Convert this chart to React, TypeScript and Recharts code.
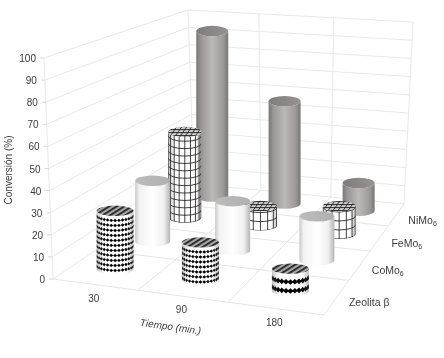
import React from 'react'
import { ScatterChart, Scatter, XAxis, YAxis } from 'recharts'

const W = 444
const H = 358

// Values, one array per catalyst, in the order of tiempos
const tiempos = ['30', '90', '180']
const catalysts = ['Zeolita β', 'CoMo', 'FeMo', 'NiMo']
const zeolita = [27, 17, 10]
const coMo = [30, 24, 21]
const feMo = [45, 10, 14]
const niMo = [92, 56, 15]
const yTicks = [0, 10, 20, 30, 40, 50, 60, 70, 80, 90, 100]
const seriesValues = [zeolita, coMo, feMo, niMo]

type Pt = { x: number; y: number }

// Corners of the box as seen by the camera: front-left, front-right, back-right, back-left
const floorQuad: Pt[] = [
  { x: 53, y: 279 },
  { x: 324, y: 315 },
  { x: 404, y: 204 },
  { x: 194, y: 184 },
]
const topQuad: Pt[] = [
  { x: 44, y: 58 },
  { x: 333, y: 80 },
  { x: 413, y: 22 },
  { x: 188, y: 10 },
]

// Unit square to quad perspective map
function quadMap(q: Pt[], u: number, v: number): Pt {
  const [p0, p1, p2, p3] = q
  const dx1 = p1.x - p2.x
  const dx2 = p3.x - p2.x
  const sx = p0.x - p1.x + p2.x - p3.x
  const dy1 = p1.y - p2.y
  const dy2 = p3.y - p2.y
  const sy = p0.y - p1.y + p2.y - p3.y
  const den = dx1 * dy2 - dx2 * dy1
  const g = (sx * dy2 - dx2 * sy) / den
  const h = (dx1 * sy - sx * dy1) / den
  const a = p1.x - p0.x + g * p1.x
  const b = p3.x - p0.x + h * p3.x
  const d = p1.y - p0.y + g * p1.y
  const e = p3.y - p0.y + h * p3.y
  const w = g * u + h * v + 1
  return { x: (a * u + b * v + p0.x) / w, y: (d * u + e * v + p0.y) / w }
}

// u along tiempo, v along catalyst, w is the conversion
function project(u: number, v: number, w: number): Pt {
  const f = quadMap(floorQuad, u, v)
  const t = quadMap(topQuad, u, v)
  return { x: f.x + ((t.x - f.x) * w) / 100, y: f.y + ((t.y - f.y) * w) / 100 }
}

const Blank = () => <g />

function seg(a: Pt, b: Pt) {
  return [a, b]
}

// Grid lines of the floor and the two walls
const wallLines = yTicks.flatMap((t) => [
  seg(project(0, 0, t), project(0, 1, t)),
  seg(project(0, 1, t), project(1, 1, t)),
])
const crossLines = [
  seg(project(0, 0, 0), project(0, 0, 100)),
  seg(project(0, 1, 0), project(0, 1, 100)),
  seg(project(1, 1, 0), project(1, 1, 100)),
  seg(project(1 / 3, 1, 0), project(1 / 3, 1, 100)),
  seg(project(2 / 3, 1, 0), project(2 / 3, 1, 100)),
]
const floorLines = [
  seg(project(0, 0, 0), project(1, 0, 0)),
  seg(project(1, 0, 0), project(1, 1, 0)),
  seg(project(1 / 3, 0, 0), project(1 / 3, 1, 0)),
  seg(project(2 / 3, 0, 0), project(2 / 3, 1, 0)),
  seg(project(0, 0.25, 0), project(1, 0.25, 0)),
  seg(project(0, 0.5, 0), project(1, 0.5, 0)),
  seg(project(0, 0.75, 0), project(1, 0.75, 0)),
]
const tickMarks = yTicks.map((t) => {
  const p = project(0, 0, t)
  return seg({ x: p.x - 4, y: p.y }, p)
})

const yLabelData = yTicks.map((t) => {
  const p = project(0, 0, t)
  return { x: p.x - 8, y: p.y + 4, label: String(t), anchor: 'end' }
})
const xLabelData = tiempos.map((t, i) => {
  const p = project((i + 0.5) / 3, 0, 0)
  return { x: p.x - 1, y: p.y + 17, label: t, anchor: 'middle' }
})
const zLabelData = catalysts.map((c, i) => {
  const p = project(1, (i + 0.5) / 4, 0)
  return { x: p.x + 12, y: p.y + 9, label: c, anchor: 'start', sub: i > 0 ? '6' : undefined, size: 10.5 }
})
const axisTitles = [
  { x: 12, y: 170, label: 'Conversión (%)', anchor: 'middle', rotate: -90, size: 10 },
  { x: 170, y: 330, label: 'Tiempo (min.)', anchor: 'middle', rotate: 8, size: 10, italic: true },
]

const TextMark = (props: any) => {
  const { cx, cy, payload } = props
  const { label, anchor, sub, rotate, size, italic } = payload
  return (
    <text
      x={cx}
      y={cy}
      textAnchor={anchor}
      fontSize={size || 10}
      fontStyle={italic ? 'italic' : 'normal'}
      fontFamily="Liberation Sans"
      fill="#3c3c3c"
      transform={rotate ? `rotate(${rotate} ${cx} ${cy})` : undefined}
    >
      {label}
      {sub && (
        <tspan fontSize={7} dy={2}>
          {sub}
        </tspan>
      )}
    </text>
  )
}

// Curved grid of the FeMo columns
function gridSurface(cx: number, topY: number, rx: number, ry: number, h: number) {
  const step = h < 40 ? 9 : 7.4
  const out: React.ReactNode[] = []
  for (let y = h; y > 0; y -= step) {
    const yy = topY + y
    out.push(
      <path
        key={`h${y}`}
        d={`M${cx - rx} ${yy} A${rx} ${ry} 0 0 0 ${cx + rx} ${yy}`}
        fill="none"
        stroke="#111"
        strokeWidth={0.8}
      />
    )
  }
  const cols = h < 40 ? 3 : 4
  const base = Math.PI / (2 * cols + 1)
  for (let i = -cols; i <= cols; i++) {
    const ang = i * base
    const xx = cx + rx * Math.sin(ang)
    const off = ry * Math.cos(ang)
    out.push(<line key={`v${i}`} x1={xx} x2={xx} y1={topY + off} y2={topY + h + off} stroke="#111" strokeWidth={0.8} />)
  }
  return out
}

// Rows of black diamonds of the Zeolita columns
function diamondSurface(cx: number, topY: number, rx: number, ry: number, h: number) {
  const step = h < 30 ? 9 : 5
  const size = h < 30 ? 2.8 : 1.7
  const cols = h < 30 ? 6 : 7
  const base = Math.PI / (2 * cols + 1)
  const out: React.ReactNode[] = []
  for (let y = step * 0.9; y < h + ry * 0.6; y += step) {
    for (let i = -cols; i <= cols; i++) {
      const ang = i * base
      const xx = cx + rx * Math.sin(ang)
      const yy = topY + y + ry * Math.cos(ang)
      if (yy > topY + h + ry * Math.cos(ang)) continue
      const sw = size * Math.cos(ang) + 0.3
      out.push(
        <polygon
          key={`${y}-${i}`}
          points={`${xx - sw},${yy} ${xx},${yy - size} ${xx + sw},${yy} ${xx},${yy + size}`}
          fill="#000"
        />
      )
    }
  }
  return out
}

const CylinderMark = (props: any) => {
  const { cx, cy, payload } = props
  const { topGapX, topGapY, kind, rx } = payload
  const ry = 5.2
  const topY = cy - topGapY
  const topX = cx + topGapX
  const h = cy - topY
  // the small lean of the column is not drawn, only its height
  const cxx = (cx + topX) / 2
  const body = `M${cxx - rx} ${topY} L${cxx - rx} ${cy} A${rx} ${ry} 0 0 0 ${cxx + rx} ${cy} L${cxx + rx} ${topY} A${rx} ${ry} 0 0 1 ${cxx - rx} ${topY} Z`
  const clipId = `clip-${kind}-${Math.round(cx)}`
  const bodyFill =
    kind === 3 ? 'url(#niBody)' : kind === 1 ? 'url(#coBody)' : '#fff'
  const topFill =
    kind === 3 ? 'url(#niTop)' : kind === 1 ? 'url(#coTop)' : kind === 2 ? 'url(#gridTop)' : 'url(#stripeTop)'
  return (
    <g>
      <clipPath id={clipId}>
        <path d={body} />
      </clipPath>
      <path d={body} fill={bodyFill} />
      {kind === 2 && <g clipPath={`url(#${clipId})`}>{gridSurface(cxx, topY, rx, ry, h)}</g>}
      {kind === 0 && <g clipPath={`url(#${clipId})`}>{diamondSurface(cxx, topY, rx, ry, h)}</g>}
      {(kind === 0 || kind === 2) && <path d={body} fill="url(#edgeShade)" />}
      <ellipse cx={cxx} cy={topY} rx={rx} ry={ry} fill={topFill} />
    </g>
  )
}

// One mark per column, painted from the back row to the front row
const columns = [3, 2, 1, 0].flatMap((s) =>
  seriesValues[s].map((value, i) => {
    const u = (i + 0.5) / 3
    const v = (s + 0.5) / 4
    const base = project(u, v, 0)
    const top = project(u, v, value)
    return {
      x: base.x,
      y: base.y,
      topGapX: top.x - base.x,
      topGapY: base.y - top.y,
      kind: s,
      rx: [18.5, 17.5, 16.5, 16][s],
    }
  })
)

export default function App() {
  return (
    <div style={{ position: 'absolute', left: 0, top: 0, width: W, height: H, background: '#fff', filter: 'blur(0.4px)' }}>
      <ScatterChart width={W} height={H} margin={{ top: 0, right: 0, bottom: 0, left: 0 }}>
        <defs>
          <linearGradient id="niBody" x1="0" y1="0" x2="1" y2="0">
            <stop offset="0" stopColor="#7a7777" />
            <stop offset="0.15" stopColor="#9a9696" />
            <stop offset="0.5" stopColor="#bdb9b9" />
            <stop offset="0.85" stopColor="#9c9898" />
            <stop offset="1" stopColor="#787575" />
          </linearGradient>
          <linearGradient id="niTop" x1="0" y1="0" x2="1" y2="0">
            <stop offset="0" stopColor="#7f7c7c" />
            <stop offset="1" stopColor="#969292" />
          </linearGradient>
          <linearGradient id="coBody" x1="0" y1="0" x2="1" y2="0">
            <stop offset="0" stopColor="#c8c8c8" />
            <stop offset="0.12" stopColor="#f2f2f2" />
            <stop offset="0.5" stopColor="#ffffff" />
            <stop offset="0.82" stopColor="#f0f0f0" />
            <stop offset="1" stopColor="#b4b4b4" />
          </linearGradient>
          <linearGradient id="coTop" x1="0" y1="0" x2="1" y2="0">
            <stop offset="0" stopColor="#bcbcbc" />
            <stop offset="1" stopColor="#b0b0b0" />
          </linearGradient>
          <linearGradient id="edgeShade" x1="0" y1="0" x2="1" y2="0">
            <stop offset="0" stopColor="#555" stopOpacity="0.35" />
            <stop offset="0.2" stopColor="#555" stopOpacity="0" />
            <stop offset="0.8" stopColor="#555" stopOpacity="0" />
            <stop offset="1" stopColor="#555" stopOpacity="0.35" />
          </linearGradient>
          <pattern id="stripeTop" width="4" height="4" patternUnits="userSpaceOnUse" patternTransform="rotate(-32)">
            <rect width="4" height="4" fill="#a8a8a8" />
            <rect width="4" height="1.8" fill="#222" />
          </pattern>
          <pattern id="gridTop" width="5" height="3" patternUnits="userSpaceOnUse" patternTransform="skewX(-35)">
            <rect width="5" height="3" fill="#cfcfcf" />
            <rect width="5" height="0.9" fill="#222" />
            <rect width="0.9" height="3" fill="#222" />
          </pattern>
        </defs>
        <XAxis type="number" dataKey="x" domain={[0, W]} hide />
        <YAxis type="number" dataKey="y" domain={[0, H]} reversed hide />
        {wallLines.map((l, i) => (
          <Scatter key={`w${i}`} data={l} line={{ stroke: '#e9e9e9', strokeWidth: 1 }} shape={Blank} isAnimationActive={false} />
        ))}
        {crossLines.map((l, i) => (
          <Scatter key={`c${i}`} data={l} line={{ stroke: '#e9e9e9', strokeWidth: 1 }} shape={Blank} isAnimationActive={false} />
        ))}
        {floorLines.map((l, i) => (
          <Scatter key={`f${i}`} data={l} line={{ stroke: '#e6e6e6', strokeWidth: 1 }} shape={Blank} isAnimationActive={false} />
        ))}
        {tickMarks.map((l, i) => (
          <Scatter key={`t${i}`} data={l} line={{ stroke: '#d8d8d8', strokeWidth: 1 }} shape={Blank} isAnimationActive={false} />
        ))}
        {columns.map((c, i) => (
          <Scatter key={`col${i}`} data={[c]} shape={CylinderMark} isAnimationActive={false} />
        ))}
        <Scatter data={yLabelData} shape={TextMark} isAnimationActive={false} />
        <Scatter data={xLabelData} shape={TextMark} isAnimationActive={false} />
        <Scatter data={zLabelData} shape={TextMark} isAnimationActive={false} />
        <Scatter data={axisTitles} shape={TextMark} isAnimationActive={false} />
      </ScatterChart>
    </div>
  )
}
